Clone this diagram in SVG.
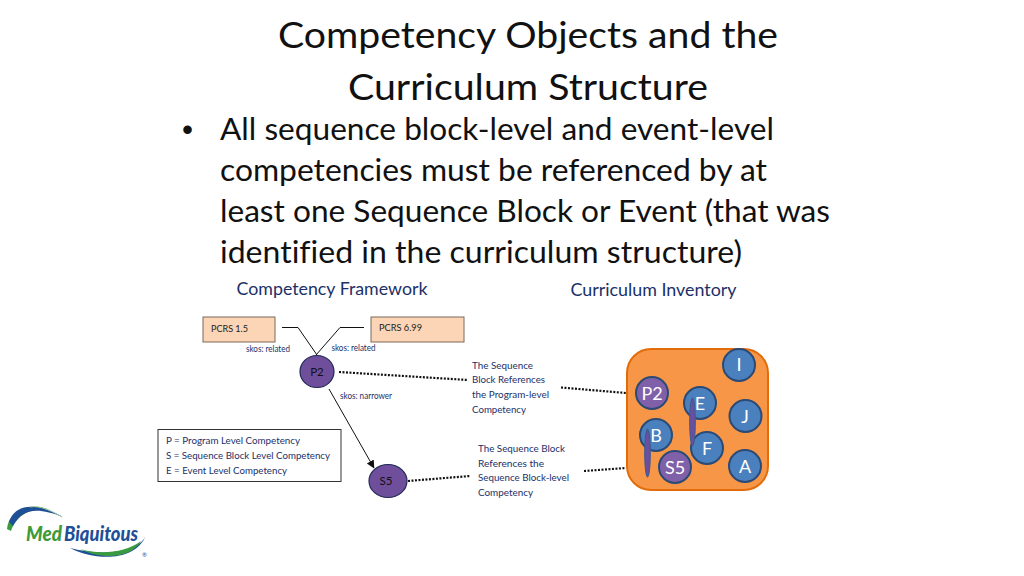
<svg xmlns="http://www.w3.org/2000/svg" width="1024" height="576" viewBox="0 0 1024 576">
<defs>
<marker id="arr" markerWidth="9" markerHeight="9" refX="7.500" refY="4" orient="auto" markerUnits="userSpaceOnUse"><path d="M0 0L8 4L0 8Z" fill="#111"/></marker>
</defs>
<style>
text{font-family:Lato,"Open Sans","Liberation Sans",sans-serif;font-variant-ligatures:none}
.title{font-size:37px;fill:#111}
.body{font-size:31.5px;fill:#111}
.head{font-size:17px;fill:#1c3068}
.small{font-size:9.5px;fill:#1c3068}
.lab{font-size:9.5px;fill:#222}
.box{fill:#fbd5b5;stroke:#7a6a5a;stroke-width:1}
.pur{fill:#6f4f9c;stroke:#1f2a55;stroke-width:1.2}
.c1{font-size:11.5px;fill:#111;text-anchor:middle}
.n{stroke-width:2;stroke:#2b4a75}
.nb{fill:#4a80bd}
.np{fill:#8060a8}
.nt{font-size:18px;fill:#fff;text-anchor:middle}
.solid{fill:none;stroke:#111;stroke-width:1}
.dot{fill:none;stroke:#111;stroke-width:2.200;stroke-dasharray:2 1.500}
.logo{font-size:21px;font-weight:900;font-style:italic}
</style>
<g id="title">
<text class="title" x="278" y="48" textLength="500" lengthAdjust="spacingAndGlyphs">Competency Objects and the</text>
<text class="title" x="348" y="100" textLength="360" lengthAdjust="spacingAndGlyphs">Curriculum Structure</text>
</g>
<g id="bullets">
<text class="body" x="182" y="140" style="font-family:'Liberation Sans',sans-serif">•</text>
<text class="body" x="220" y="140" textLength="554" lengthAdjust="spacingAndGlyphs">All sequence block-level and event-level</text>
<text class="body" x="220" y="181" textLength="547" lengthAdjust="spacingAndGlyphs">competencies must be referenced by at</text>
<text class="body" x="220" y="222" textLength="610" lengthAdjust="spacingAndGlyphs">least one Sequence Block or Event (that was</text>
<text class="body" x="220" y="263" textLength="522" lengthAdjust="spacingAndGlyphs">identified in the curriculum structure)</text>
</g>
<g id="headings">
<text class="head" x="236.500" y="295" textLength="191" lengthAdjust="spacingAndGlyphs">Competency Framework</text>
<text class="head" x="570.500" y="296" textLength="166" lengthAdjust="spacingAndGlyphs">Curriculum Inventory</text>
</g>
<g id="connectors">
<path class="solid" d="M282 327.500H298L317 355"/>
<path class="solid" d="M364 327.500H340L316 355"/>
<path class="solid" d="M329 389L374 468" marker-end="url(#arr)"/>
<path class="dot" d="M339 372L468 380"/>
<path class="dot" d="M561 387.500L626 393"/>
<path class="dot" d="M408 481L470 476"/>
<path class="dot" d="M584 471L626 468"/>
</g>
<g id="pcrs15"><rect class="box" x="203" y="317" width="72" height="25"/><text class="lab" x="211" y="332" textLength="37" lengthAdjust="spacingAndGlyphs">PCRS 1.5</text></g>
<g id="pcrs699"><rect class="box" x="371" y="317" width="93" height="25"/><text class="lab" x="379" y="331" textLength="43" lengthAdjust="spacingAndGlyphs">PCRS 6.99</text></g>
<g id="labels">
<text class="small" x="246" y="352" textLength="44" lengthAdjust="spacingAndGlyphs">skos: related</text>
<text class="small" x="331.500" y="351" textLength="44" lengthAdjust="spacingAndGlyphs">skos: related</text>
<text class="small" x="340" y="399" textLength="52" lengthAdjust="spacingAndGlyphs">skos: narrower</text>
</g>
<g id="p2"><ellipse class="pur" cx="317" cy="371.500" rx="17" ry="16"/><text class="c1" x="317" y="376">P2</text></g>
<g id="s5"><ellipse class="pur" cx="388" cy="481" rx="19" ry="16.500"/><text class="c1" x="386" y="485">S5</text></g>
<g id="legend">
<rect x="158" y="429.500" width="183" height="52" fill="#fff" stroke="#333" stroke-width="1"/>
<text class="small" x="166" y="444" style="font-size:10.300px" textLength="134" lengthAdjust="spacingAndGlyphs">P = Program Level Competency</text>
<text class="small" x="166" y="459" style="font-size:10.300px" textLength="164" lengthAdjust="spacingAndGlyphs">S = Sequence Block Level Competency</text>
<text class="small" x="166" y="474" style="font-size:10.300px" textLength="121" lengthAdjust="spacingAndGlyphs">E = Event Level Competency</text>
</g>
<g id="note1">
<text class="small" x="472" y="369" textLength="61" lengthAdjust="spacingAndGlyphs">The Sequence</text>
<text class="small" x="472" y="383" textLength="73" lengthAdjust="spacingAndGlyphs">Block References</text>
<text class="small" x="472" y="398" textLength="77" lengthAdjust="spacingAndGlyphs">the Program-level</text>
<text class="small" x="472" y="413" textLength="54" lengthAdjust="spacingAndGlyphs">Competency</text>
</g>
<g id="note2">
<text class="small" x="478" y="452" textLength="87" lengthAdjust="spacingAndGlyphs">The Sequence Block</text>
<text class="small" x="478" y="467" textLength="66" lengthAdjust="spacingAndGlyphs">References the</text>
<text class="small" x="478" y="481" textLength="91" lengthAdjust="spacingAndGlyphs">Sequence Block-level</text>
<text class="small" x="478" y="496" textLength="55" lengthAdjust="spacingAndGlyphs">Competency</text>
</g>
<g id="inventory">
<rect x="627" y="349" width="141" height="141" rx="24" fill="#f79646" stroke="#e36c0a" stroke-width="2"/>
<g id="node-i"><circle class="n nb" cx="739" cy="365" r="16"/><text class="nt" x="739" y="371">I</text></g>
<g id="node-p2"><circle class="n np" cx="652" cy="393" r="16"/><text class="nt" x="652" y="400">P2</text></g>
<g id="node-e"><circle class="n nb" cx="700" cy="403" r="16"/><text class="nt" x="700" y="410">E</text></g>
<g id="node-j"><circle class="n nb" cx="745.500" cy="416" r="16"/><text class="nt" x="745" y="423">J</text></g>
<g id="node-b"><circle class="n nb" cx="656" cy="435" r="16"/><text class="nt" x="656" y="442">B</text></g>
<g id="node-f"><circle class="n nb" cx="707" cy="448" r="16"/><text class="nt" x="707" y="455">F</text></g>
<g id="node-s5"><circle class="n np" cx="675" cy="467" r="16"/><text class="nt" x="675" y="474">S5</text></g>
<g id="node-a"><circle class="n nb" cx="745" cy="466" r="16"/><text class="nt" x="745" y="473">A</text></g>
<ellipse cx="692.500" cy="422" rx="2.800" ry="24" fill="#6a4ea0" stroke="#3a5a90" stroke-width="1"/>
<ellipse cx="647.500" cy="453" rx="2.800" ry="24" fill="#6a4ea0" stroke="#3a5a90" stroke-width="1"/>
</g>
<g id="logo">
<path d="M7 529C9 509 30 502 50 510C38 507 18 511 11 531Z" fill="#3a9a3f"/>
<path d="M9 522C16 502 38 503 63 517C38 507 22 508 13 526Z" fill="#1f4f96"/>
<path d="M30 507C40 505 52 511 62 517" fill="none" stroke="#9cc89a" stroke-width="1"/>
<path d="M70 548C95 561 136 562 146 535C140 552 105 557 70 548Z" fill="#1f4f96"/>
<path d="M80 549C100 555 125 553 141 541C130 560 100 559 80 549Z" fill="#3a9a3f"/>
<text class="logo" x="26" y="541" fill="#3f9a3a" textLength="36" lengthAdjust="spacingAndGlyphs">Med</text>
<text class="logo" x="64" y="541" fill="#1f4f96" textLength="74" lengthAdjust="spacingAndGlyphs">Biquitous</text>
<text x="142" y="557" font-size="6" fill="#1f4f96">®</text>
</g>
</svg>
